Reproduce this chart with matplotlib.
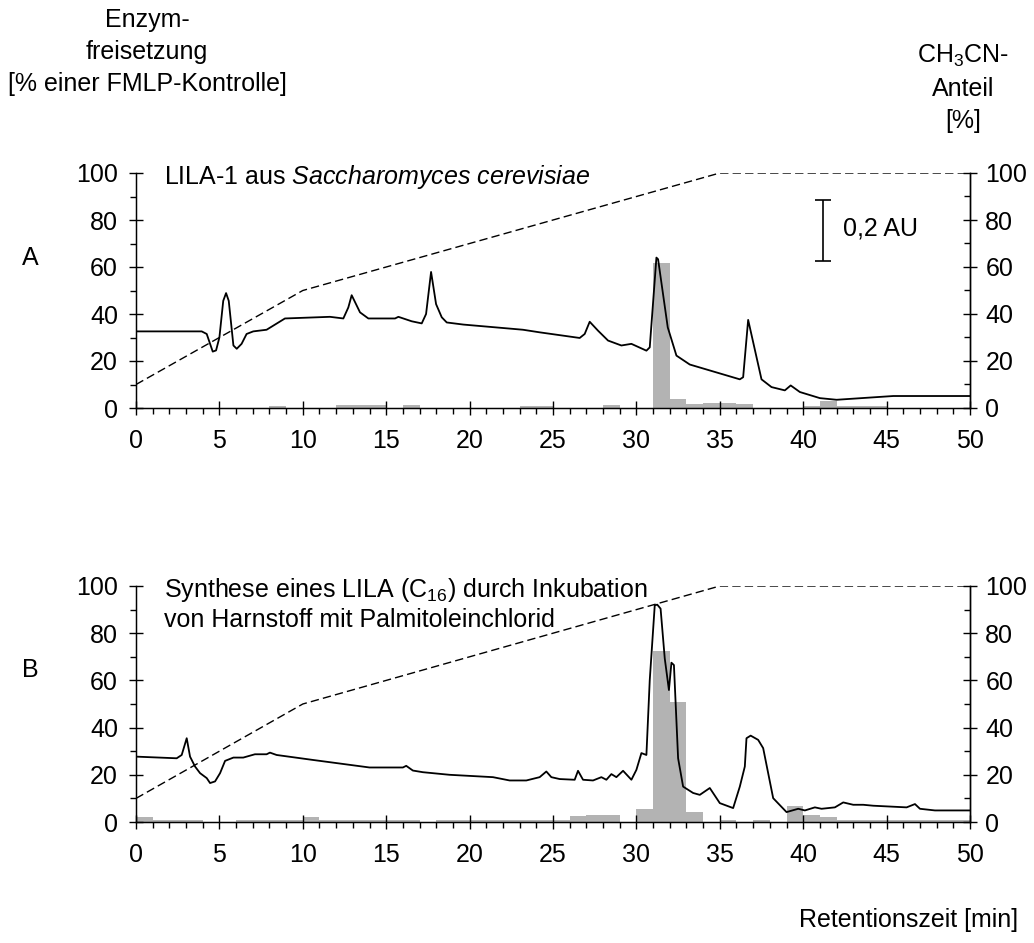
import matplotlib
matplotlib.use('Agg')
import matplotlib.pyplot as plt
from matplotlib import font_manager
from matplotlib.ticker import MultipleLocator

# Schrift: schmale Arial-Variante, falls vorhanden
namen = {f.name for f in font_manager.fontManager.ttflist}
schrift = 'Liberation Sans Narrow' if 'Liberation Sans Narrow' in namen else 'Liberation Sans'
plt.rcParams['font.family'] = [schrift, 'DejaVu Sans']
plt.rcParams['mathtext.fontset'] = 'custom'
plt.rcParams['mathtext.rm'] = schrift
plt.rcParams['mathtext.it'] = schrift + ':italic'

# Gradient CH3CN-Anteil (beide Läufe gleich)
grad_t = [0, 10, 35, 50]
grad_p = [10, 50, 100, 100]

# Lauf A: UV-Spur
a_t = [0, 3.94, 4.24, 4.6, 4.8, 5.0, 5.23, 5.4, 5.56, 5.84, 6.04, 6.33, 6.63, 7.03, 7.83,
       8.93, 11.63, 12.43, 12.73, 12.93, 13.43, 13.93, 15.53, 15.73, 16.53, 17.13, 17.39,
       17.69, 17.99, 18.33, 18.63, 19.63, 23.2, 24.2, 26.6, 26.9, 27.2, 27.7, 28.3, 29.1,
       29.7, 30.6, 30.8, 31.2, 31.3, 31.88, 32.4, 33.2, 36.2, 36.4, 36.7, 37.5, 38.1, 38.9,
       39.25, 39.8, 41.0, 42.0, 45.4, 50.0]
a_uv = [32.6, 32.6, 31.5, 24, 24.5, 30, 45.6, 48.9, 45.6, 26.6, 25.2, 27.3, 31.5, 32.6, 33.3,
        38.1, 38.8, 38.1, 42.8, 48, 40.7, 38.1, 38.1, 38.8, 36.9, 36, 40, 57.9, 44.2, 38.6,
        36.4, 35.5, 33.3, 32.2, 29.8, 31.5, 36.7, 32.9, 28.7, 26.6, 27.3, 24.4, 25.8, 64,
        63.3, 34.3, 22.3, 18.5, 12.2, 13.1, 37.5, 12.2, 8.9, 7.5, 9.6, 6.8, 4.2, 3.5, 5.1, 5.1]

# Lauf A: Enzymfreisetzung je Fraktion (1 min)
a_frak = [8, 12, 13, 14, 16, 23, 24, 28, 31, 32, 33, 34, 35, 36, 40, 41, 42, 43, 44]
a_enzym = [1, 1.2, 1.2, 1.2, 1.2, 1, 1, 1.4, 61.5, 3.8, 1.6, 2.1, 2.1, 1.6, 1, 3, 1, 1, 1]

# Lauf B: UV-Spur
b_t = [0, 2.44, 2.74, 3.04, 3.24, 3.54, 3.84, 4.24, 4.44, 4.74, 5.04, 5.34, 5.84, 6.43,
       7.13, 7.83, 8.03, 8.43, 10.6, 14.0, 16.0, 16.2, 16.6, 17.2, 18.8, 21.4, 22.4, 23.4,
       24.2, 24.6, 24.9, 25.4, 26.3, 26.5, 26.8, 27.4, 27.9, 28.2, 28.5, 28.8, 29.2, 29.7,
       30.0, 30.3, 30.6, 30.8, 31.1, 31.25, 31.45, 31.7, 31.95, 32.1, 32.25, 32.5, 32.8,
       33.4, 33.8, 34.4, 35.0, 35.8, 36.2, 36.5, 36.6, 36.85, 37.3, 37.6, 38.2, 39.0, 39.7,
       40.1, 40.7, 41.1, 41.9, 42.4, 43.0, 43.6, 44.2, 46.2, 46.7, 47.0, 47.9, 50.0]
b_uv = [27.7, 27, 28.4, 35.5, 27.7, 23.5, 20.7, 18.6, 16.5, 17.2, 20.7, 25.9, 27.3, 27.3,
        28.7, 28.7, 29.4, 28.4, 26.3, 23.1, 23.1, 23.8, 21.8, 21.1, 20, 19, 17.6, 17.6,
        19, 21.4, 19, 18.2, 17.9, 21.7, 17.9, 17.6, 19, 17.9, 20.3, 19, 21.7, 17.9,
        22.1, 29.2, 28.4, 60.1, 91.8, 92.1, 90.4, 69.3, 55.9, 67.5, 66.5, 27, 15,
        12.3, 11.5, 14.4, 8, 5.9, 15, 23.5, 35.5, 36.6, 34.8, 31.3, 10.1, 4.2, 5.6,
        4.9, 6.2, 5.6, 6.2, 8.3, 7.3, 7.3, 6.9, 6.2, 7.6, 5.6, 4.9, 4.9]

# Lauf B: Enzymfreisetzung je Fraktion (1 min)
b_frak = [0, 1, 2, 3, 6, 7, 8, 9, 10, 11, 12, 13, 14, 15, 16, 18, 19, 20, 21, 22, 23, 24,
          25, 26, 27, 28, 30, 31, 32, 33, 35, 37, 39, 40, 41, 42, 43, 44, 45, 46, 47, 48, 49]
b_enzym = [2, 1, 1, 1, 1, 1, 1, 1, 2, 1, 1, 1, 1, 1, 0.7, 1, 1, 1, 1, 1, 1, 1,
           1, 2.4, 3.1, 3.1, 5.6, 72.4, 51, 4.4, 1, 1, 6.6, 3.1, 2.2, 1, 1, 1, 1, 1, 1, 1, 1]

x_ticks = [0, 5, 10, 15, 20, 25, 30, 35, 40, 45, 50]
y_ticks = [0, 20, 40, 60, 80, 100]

FS = 18

fig = plt.figure(figsize=(10.34, 9.43), dpi=100)


def panel(rect, frak, enzym, t, uv):
    ax = fig.add_axes(rect)
    ax.bar(frak, enzym, width=1.0, align='edge', color='#b3b3b3', linewidth=0, zorder=1)
    ax.plot(grad_t, grad_p, color='black', lw=1.0, dashes=(6, 3), zorder=2)
    ax.plot(t, uv, color='black', lw=1.3, zorder=3)
    ax.set_xlim(0, 50)
    ax.set_ylim(0, 100)
    ax.spines['top'].set_visible(False)
    ax.set_xticks(x_ticks)
    ax.set_yticks(y_ticks)
    ax.xaxis.set_minor_locator(MultipleLocator(1))
    ax.yaxis.set_minor_locator(MultipleLocator(10))
    ax.tick_params(axis='both', which='major', direction='inout', length=10, width=1,
                   labelsize=FS)
    ax.tick_params(axis='x', which='major', pad=10)
    ax.tick_params(axis='y', which='major', pad=8)
    ax.tick_params(axis='both', which='minor', direction='out', length=4.5, width=1)
    for s in ax.spines.values():
        s.set_linewidth(1)

    ax2 = ax.twinx()
    ax2.set_ylim(0, 100)
    ax2.set_yticks(y_ticks)
    ax2.yaxis.set_minor_locator(MultipleLocator(10))
    ax2.spines['top'].set_visible(False)
    ax2.spines['right'].set_linewidth(1)
    ax2.tick_params(axis='y', which='major', direction='inout', length=10, width=1,
                    labelsize=FS, pad=6)
    ax2.tick_params(axis='y', which='minor', direction='in', length=4.5, width=1)
    return ax


axA = panel([136 / 1034, 1 - 408 / 943, 834 / 1034, 235 / 943], a_frak, a_enzym, a_t, a_uv)
axB = panel([136 / 1034, 1 - 822 / 943, 834 / 1034, 236 / 943], b_frak, b_enzym, b_t, b_uv)

# Maßstab 0,2 AU
axA.errorbar([41.2], [75.45], yerr=[[12.85], [12.85]], fmt='none', ecolor='black',
             elinewidth=1.2, capsize=6, capthick=1.2)
axA.text(42.4, 76.5, '0,2 AU', fontsize=FS, va='center', ha='left')

axA.text(1.7, 98.5, 'LILA-1 aus $\\mathit{Saccharomyces\\ cerevisiae}$', fontsize=FS,
         va='center', ha='left')
axB.text(1.7, 98.3, 'Synthese eines LILA (C$_{16}$) durch Inkubation', fontsize=FS,
         va='center', ha='left')
axB.text(1.7, 85.6, 'von Harnstoff mit Palmitoleinchlorid', fontsize=FS,
         va='center', ha='left')

fig.text(147 / 1034, 1 - 52 / 943, 'Enzym-\nfreisetzung\n[% einer FMLP-Kontrolle]',
         fontsize=FS, ha='center', va='center', linespacing=1.42)
fig.text(963 / 1034, 1 - 88 / 943, 'CH$_3$CN-\nAnteil\n[%]',
         fontsize=FS, ha='center', va='center', linespacing=1.4)
fig.text(30 / 1034, 1 - 258 / 943, 'A', fontsize=FS, ha='center', va='center')
fig.text(30 / 1034, 1 - 670 / 943, 'B', fontsize=FS, ha='center', va='center')
fig.text(1018 / 1034, 1 - 920 / 943, 'Retentionszeit [min]', fontsize=FS, ha='right',
         va='center')

fig.savefig('out.png', dpi=100)
